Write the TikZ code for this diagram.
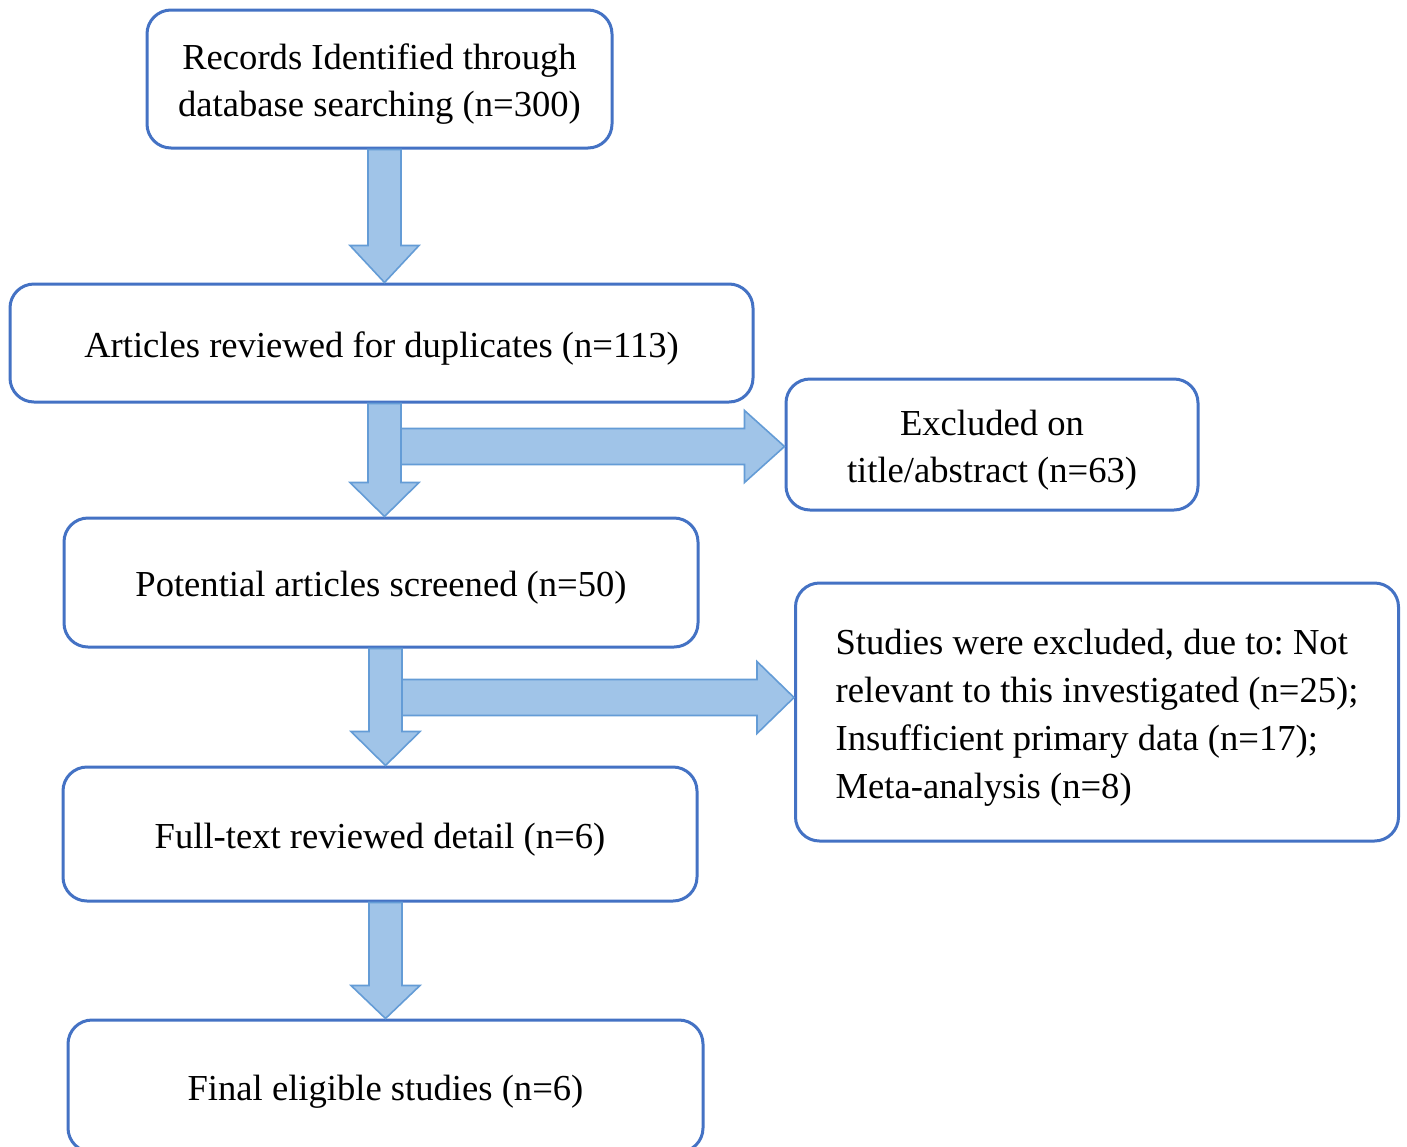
\documentclass[tikz,border=0pt]{standalone}
\usepackage{fontspec}
\setmainfont{Liberation Serif}
\usetikzlibrary{calc}
\frenchspacing
\definecolor{boxblue}{RGB}{68,114,196}
\definecolor{arrowfill}{RGB}{160,196,232}
\definecolor{arrowline}{RGB}{100,156,214}
\newcommand\boxstrut{\rule{0pt}{18pt}}
\tikzset{
  flowbox/.style={draw=boxblue, line width=1.5pt, rounded corners=12pt, fill=white,
    align=center, font=\fontsize{18.3}{23.5}\selectfont, inner sep=0pt},
  blockarrow/.style={fill=arrowfill, draw=arrowline, line width=0.8pt, line join=miter},
}
\newcommand\vflow[4]{% #1 centre-x coordinate, #2 from node, #3 to node, #4 head length
  \path[blockarrow] ($(#1 |- #2.south)+(-16.5,0)$) -- ($(#1 |- #2.south)+(16.5,0)$)
    -- ($(#1 |- #3.north)+(16.5,-#4)$) -- ($(#1 |- #3.north)+(34.5,-#4)$)
    -- (#1 |- #3.north) -- ($(#1 |- #3.north)+(-34.5,-#4)$)
    -- ($(#1 |- #3.north)+(-16.5,-#4)$) -- cycle;}
\newcommand\hflow[3]{% #1 tail coordinate, #2 target node, #3 head length
  \path[blockarrow] ($(#1)+(0,-18)$) -- ($(#1 -| #2.west)+(-#3,-18)$)
    -- ($(#1 -| #2.west)+(-#3,-36)$) -- (#1 -| #2.west)
    -- ($(#1 -| #2.west)+(-#3,36)$) -- ($(#1 -| #2.west)+(-#3,18)$)
    -- ($(#1)+(0,18)$) -- cycle;}
\begin{document}
\begin{tikzpicture}[x=0.5pt,y=-0.5pt]
\useasboundingbox (0,0) rectangle (1407,1146);
\fill[white] (0,0) rectangle (1407,1146);

\node[flowbox, minimum width=232.5pt, minimum height=69pt] (b1) at (379.5,79)
  {\boxstrut Records Identified through\\database searching (n=300)};
\node[flowbox, minimum width=371.5pt, minimum height=59pt] (b2) at (381.5,343)
  {\boxstrut Articles reviewed for duplicates (n=113)};
\node[flowbox, minimum width=206pt, minimum height=65.5pt] (b3) at (992,444.5)
  {\boxstrut Excluded on\\title/abstract (n=63)};
\node[flowbox, minimum width=317pt, minimum height=64.5pt] (b4) at (381,582.5)
  {\boxstrut Potential articles screened (n=50)};
\node[flowbox, minimum width=301.5pt, minimum height=129pt, align=left,
      font=\fontsize{18.3}{24}\selectfont] (b5) at (1097,712)
  {\boxstrut Studies were excluded, due to: Not\\relevant to this investigated (n=25);\\Insufficient primary data (n=17);\\Meta-analysis (n=8)};
\node[flowbox, minimum width=317pt, minimum height=67pt] (b6) at (380,834)
  {\boxstrut Full-text reviewed detail (n=6)};
\node[flowbox, minimum width=317.5pt, minimum height=66pt] (b7) at (385.5,1086)
  {\boxstrut Final eligible studies (n=6)};

\coordinate (cx1) at (384.5,0);
\coordinate (cx2) at (385.5,0);
\coordinate (h1) at (400,446.5);
\coordinate (h2) at (402,697.5);

\hflow{h1}{b3}{40}
\hflow{h2}{b5}{37}
\vflow{cx1}{b1}{b2}{37}
\vflow{cx1}{b2}{b4}{34}
\vflow{cx2}{b4}{b6}{34}
\vflow{cx2}{b6}{b7}{33}
\end{tikzpicture}
\end{document}
